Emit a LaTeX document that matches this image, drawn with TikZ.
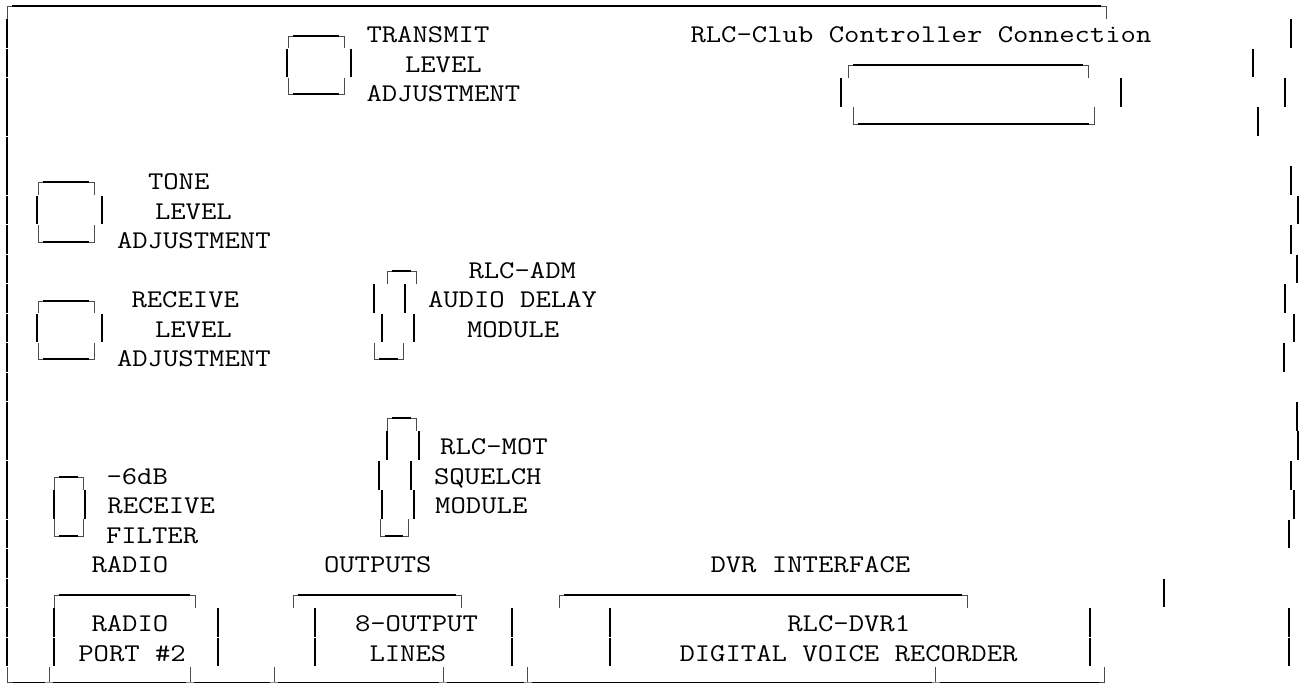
\documentclass[tikz,border=0pt]{standalone}
\usepackage{fontspec}
\newfontfamily\cfont[FakeStretch=1.17]{Latin Modern Mono}
\newcommand{\vseg}[2]{\draw[heavy] ({round(#1)},{18.7+29.45*#2+0.4}) -- ({round(#1)},{18.7+29.45*(#2+1)-0.4});}
% bracket: x1, x2, y of the line, y of the leg end
\newcommand{\topbr}[4]{\draw[thincorner] ({round(#1)},#4) -- ({round(#1)},{round(#3)}) -- ({#1+6},{round(#3)});
  \draw[thincorner] ({#2-6},{round(#3)}) -- ({round(#2)},{round(#3)}) -- ({round(#2)},#4);
  \draw[heavy] ({#1+5},{round(#3)}) -- ({#2-5},{round(#3)});}
\newcommand{\botbr}[4]{\topbr{#1}{#2}{#3}{#4}}
\begin{document}
\begin{tikzpicture}[x=1pt,y=-1pt,
  heavy/.style={line width=1.9pt,black},
  thincorner/.style={line width=1pt,black!70},
  txt/.style={anchor=base west,inner sep=0pt,outer sep=0pt,font=\cfont\fontsize{25.5pt}{25.5pt}\selectfont}]
\useasboundingbox (0,0) rectangle (1299,683);
% outer top
\topbr{7}{1106.4}{5.7}{18.7}
% left border
\foreach \k in {0,...,21}{\vseg{6.8}{\k}}
% bottom line with ticks
\draw[line width=1pt,black] (8,682.4) -- (1104,682.4);
\draw[thincorner] (7,667) -- (7,682.4) -- (13,682.4);
\draw[thincorner] (1104.7,667) -- (1104.7,682.4) -- (1099,682.4);
\foreach \x in {49,190,274.3,443.3,527.7,935.7}{
  \draw[thincorner] (\x,667) -- (\x,682.4);
  \draw[line width=1pt,black!45] ({\x-4},682.4) -- ({\x+4},682.4);}
% right-hand fragments
\vseg{1290.7}{0}\vseg{1252.5}{1}\vseg{1285}{2}\vseg{1258}{3}
\vseg{1290.7}{5}\vseg{1298}{6}\vseg{1290.7}{7}\vseg{1296.5}{8}
\vseg{1285}{9}\vseg{1294}{10}\vseg{1283.6}{11}
\vseg{1296.5}{13}\vseg{1298}{14}\vseg{1290.7}{15}\vseg{1294}{16}\vseg{1288.6}{17}
\vseg{1164}{19}\vseg{1288.6}{20}\vseg{1288.6}{21}
% TRANSMIT box
\topbr{287.5}{344}{35.6}{48.15}
\vseg{287}{1}\vseg{351}{1}
\botbr{287.5}{344}{94.3}{77.6}
% TONE box
\topbr{37.5}{94.2}{182.3}{195.4}
\vseg{37.3}{6}\vseg{102}{6}
\botbr{37.5}{94.2}{241.7}{224.9}
% RECEIVE box
\topbr{37.5}{94.2}{300.7}{313.2}
\vseg{37.3}{10}\vseg{102}{10}
\botbr{37.5}{94.2}{359}{342.7}
% RLC-ADM
\topbr{387}{415.8}{270.7}{283.8}
\vseg{374.3}{9}\vseg{405.4}{9}\vseg{382}{10}\vseg{413.7}{10}
\botbr{374.3}{403}{359}{342.7}
% RLC-MOT
\topbr{387}{415.8}{418.3}{431}
\vseg{387}{14}\vseg{418.7}{14}\vseg{379.3}{15}\vseg{410.8}{15}\vseg{382}{16}\vseg{413.7}{16}
\botbr{379.7}{408.3}{535.7}{519.4}
% -6dB
\topbr{54.4}{82.6}{476.7}{489.9}
\vseg{54.4}{16}\vseg{85}{16}
\botbr{54.4}{82.6}{535.7}{519.4}
% Club connector
\topbr{848.3}{1088.2}{65}{77.6}
\vseg{840.5}{2}\vseg{1121}{2}
\botbr{853.3}{1093.6}{124}{107}
% Radio port
\topbr{54}{195}{594.7}{607.7}
\vseg{54}{20}\vseg{54}{21}\vseg{218}{20}\vseg{218}{21}
% Outputs
\topbr{292.5}{461}{594.7}{607.7}
\vseg{315}{20}\vseg{315}{21}\vseg{512}{20}\vseg{512}{21}
% DVR
\topbr{558.7}{966.7}{594.7}{607.7}
\vseg{610}{20}\vseg{610}{21}\vseg{1090}{20}\vseg{1090}{21}
% texts
\node[txt] (tx1) at (366.5,42.5) {TRANSMIT};
\node[txt] (tx2) at (405,72) {LEVEL};
\node[txt] (tx3) at (366.5,101.4) {ADJUSTMENT};
\node[txt] (club) at (690.5,42.5) {RLC-Club Controller Connection};
\node[txt] (tn1) at (148,189.8) {TONE};
\node[txt] (tn2) at (155,219.2) {LEVEL};
\node[txt] (tn3) at (117,248.7) {ADJUSTMENT};
\node[txt] (rc1) at (131.5,307.6) {RECEIVE};
\node[txt] (rc2) at (155,337) {LEVEL};
\node[txt] (rc3) at (117,366.5) {ADJUSTMENT};
\node[txt] (ad1) at (468.5,278.1) {RLC-ADM};
\node[txt] (ad2) at (428,307.6) {AUDIO DELAY};
\node[txt] (ad3) at (467,337) {MODULE};
\node[txt] (mo1) at (440.2,454.8) {RLC-MOT};
\node[txt] (mo2) at (434,484.3) {SQUELCH};
\node[txt] (mo3) at (435.2,513.7) {MODULE};
\node[txt] (fl1) at (106.5,484.3) {-6dB};
\node[txt] (fl2) at (107.4,513.7) {RECEIVE};
\node[txt] (fl3) at (106,543.2) {FILTER};
\node[txt] (h1) at (91.5,572.6) {RADIO};
\node[txt] (h2) at (324,572.6) {OUTPUTS};
\node[txt] (h3) at (710.5,572.6) {DVR INTERFACE};
\node[txt] (p1) at (91.5,631.5) {RADIO};
\node[txt] (p2) at (78.3,661) {PORT \#2};
\node[txt] (o1) at (355,631.5) {8-OUTPUT};
\node[txt] (o2) at (369.5,661) {LINES};
\node[txt] (d1) at (787.3,631.5) {RLC-DVR1};
\node[txt] (d2) at (679.5,661) {DIGITAL VOICE RECORDER};
\end{tikzpicture}
\end{document}
